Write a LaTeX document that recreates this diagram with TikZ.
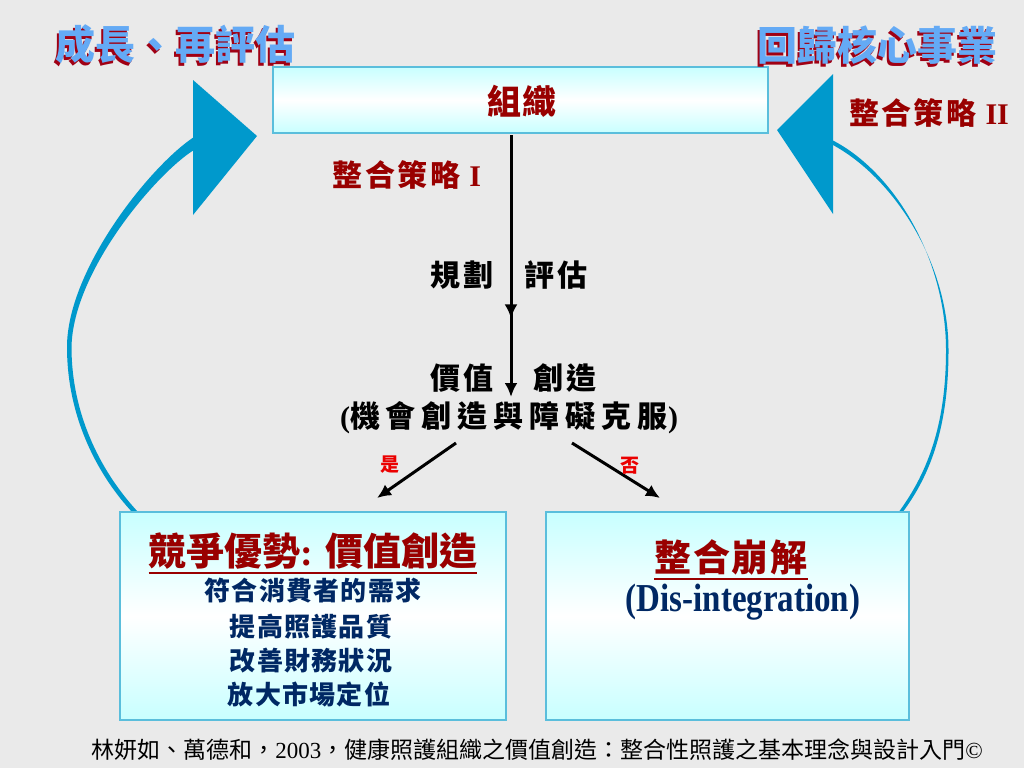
\documentclass[tikz,border=0pt]{standalone}
\usepackage{fontspec}
\usepackage{graphicx}
\setmainfont{Liberation Serif}
\newfontfamily\cjk{Noto Sans CJK TC}
\newfontfamily\cjkls{Noto Sans CJK TC}[LetterSpace=8]
\newfontfamily\cjkwide{Noto Sans CJK TC}[LetterSpace=20]
\newfontfamily\cjknar{Noto Sans CJK TC}[LetterSpace=5]
\usetikzlibrary{arrows.meta,decorations.markings}
\definecolor{bg}{RGB}{234,234,234}
\definecolor{arrowblue}{RGB}{0,153,204}
\definecolor{boxedge}{RGB}{90,190,220}
\definecolor{cyanL}{RGB}{200,255,255}
\definecolor{darkred}{RGB}{153,0,0}
\definecolor{navy}{RGB}{0,40,100}
\definecolor{titleblue}{RGB}{100,170,245}
\definecolor{shadowred}{RGB}{160,0,20}
\definecolor{yesred}{RGB}{235,0,0}
\newcommand{\shadowtxt}[1]{\rlap{\hspace*{-2pt}\raisebox{-3pt}{\textcolor{shadowred}{#1}}}\textcolor{titleblue}{#1}}
\begin{document}
\begin{tikzpicture}[x=1pt,y=-1pt,
  box/.style={draw=boxedge, line width=1.2pt, top color=cyanL, bottom color=cyanL, middle color=white, inner sep=0pt},
  bigtitle/.style={font=\cjk\bfseries\fontsize{40}{40}\selectfont, inner sep=0pt},
  strat/.style={font=\cjkls\bfseries\fontsize{30}{30}\selectfont, text=darkred, inner sep=0pt},
  mid/.style={font=\cjkls\bfseries\fontsize{30}{30}\selectfont, text=black, inner sep=0pt},
  listtxt/.style={font=\cjknar\bfseries\fontsize{26}{26}\selectfont, text=navy, inner sep=0pt},
  yn/.style={font=\cjk\bfseries\fontsize{19}{19}\selectfont, text=yesred, inner sep=0pt},
  blkarrow/.style={line width=3pt, -{Latex[length=14pt,width=13pt]}},
  curvearrow/.style={fill=arrowblue, draw=none}
]
\useasboundingbox (0,0) rectangle (1024,768);
\fill[bg] (0,0) rectangle (1024,768);

% curved arrows
\fill[curvearrow] (133,513) .. controls (100,478) and (67,420) .. (67,347)
  .. controls (67,270) and (150,166) .. (194,137)
  -- (194,150) .. controls (158,172) and (73,270) .. (71.5,347)
  .. controls (71.5,418) and (104,476) .. (139,513) -- cycle;
\fill[curvearrow] (193,80) -- (257,136) -- (193,215) -- cycle;

\fill[curvearrow] (898,513) .. controls (930,470) and (946,420) .. (946,350)
  .. controls (946,260) and (895,172) .. (832,140)
  -- (832,144.5) .. controls (893,177) and (948.5,262) .. (948.5,350)
  .. controls (948.5,422) and (933,472) .. (902,513) -- cycle;
\fill[curvearrow] (833,74) -- (777,130) -- (833,214) -- cycle;

% top box
\node[box, minimum width=495pt, minimum height=66pt] (org) at (520.5,100) {};
\node[font=\cjknar\bfseries\fontsize{34}{34}\selectfont, text=darkred, inner sep=0pt] (orgt) at (522,101) {組織};

% titles
\node[bigtitle] (t1) at (175,46) {\shadowtxt{成長、再評估}};
\node[bigtitle] (t2) at (877,47) {\shadowtxt{回歸核心事業}};

\node[strat] (s1) at (407,175) {整合策略 {\rmfamily\bfseries I}};
\node[strat] (s2) at (929,113) {整合策略 {\rmfamily\bfseries II}};

% center labels
\node[mid] (plan) at (462,275) {規劃};
\node[mid] (eval) at (556,275) {評估};
\node[mid] (val) at (462,378) {價值};
\node[mid] (cre) at (565,378) {創造};
\node[font=\cjkwide\bfseries\fontsize{30}{30}\selectfont, inner sep=0pt] (opp) at (509,418) {{\rmfamily\bfseries(}機會創造與障礙克服{\rmfamily\bfseries)}};

% vertical arrow
\coordinate (vtop) at (511,135);
\coordinate (vend) at (511,397);
\draw[line width=3pt, -{Latex[length=14pt,width=13pt]}, postaction={decorate},
  decoration={markings, mark=at position 0.70 with {\arrow{Latex[length=14pt,width=13pt]}}}] (vtop) -- (vend);

% diagonal arrows
\coordinate (ys) at (456,443);
\coordinate (ye) at (377,498);
\coordinate (ns) at (572,443);
\coordinate (ne) at (660,498);
\draw[blkarrow] (ys) -- (ye);
\draw[blkarrow] (ns) -- (ne);
\node[yn] (yes) at (390,465) {是};
\node[yn] (no) at (630,466) {否};

% bottom boxes
\node[box, minimum width=386pt, minimum height=208pt] (lb) at (313,616) {};
\node[box, minimum width=363pt, minimum height=208pt] (rb) at (727.5,616) {};

\node[font=\cjk\bfseries\fontsize{38}{38}\selectfont, text=darkred, inner sep=0pt] (adv) at (313,551) {競爭優勢{\rmfamily\bfseries:} 價值創造};
\draw[darkred, line width=2pt] (adv.west |- 0,573) -- (adv.east |- 0,573);
\node[listtxt] (l1) at (313,591) {符合消費者的需求};
\node[listtxt] (l2) at (311,627) {提高照護品質};
\node[listtxt] (l3) at (311,661) {改善財務狀況};
\node[listtxt] (l4) at (309,694) {放大市場定位};

\node[font=\cjknar\bfseries\fontsize{37}{37}\selectfont, text=darkred, inner sep=0pt] (dis) at (731,557) {整合崩解};
\draw[darkred, line width=2pt] (dis.west |- 0,579) -- (dis.east |- 0,579);
\node[font=\rmfamily\bfseries\fontsize{33}{33}\selectfont, text=navy, inner sep=0pt] (dise) at (743,602) {\scalebox{1}[1.2]{(Dis-integration)}};

% footer
\node[font=\cjk\fontsize{23}{23}\selectfont, inner sep=0pt] (foot) at (537,750) {林妍如、萬德和，{\rmfamily 2003}，健康照護組織之價值創造：整合性照護之基本理念與設計入門{\rmfamily ©}};
\end{tikzpicture}
\end{document}
